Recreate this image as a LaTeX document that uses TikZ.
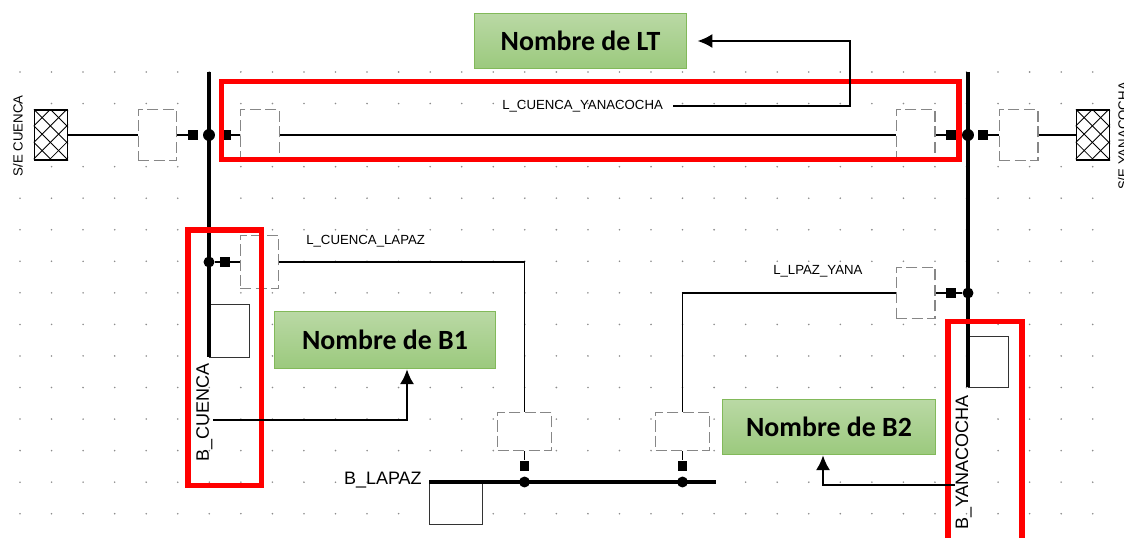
\documentclass[tikz,border=0pt]{standalone}
\usepackage{fontspec}
\setmainfont{Liberation Sans}
\newfontfamily\carlito{Carlito}
\usetikzlibrary{arrows.meta}
\definecolor{vertHaut}{RGB}{186,217,165}
\definecolor{vertBas}{RGB}{155,201,125}
\definecolor{vertBord}{RGB}{130,185,90}
\definecolor{pointille}{RGB}{135,135,135}
\definecolor{grille}{RGB}{140,140,140}

\begin{document}
\begin{tikzpicture}[x=0.025cm,y=-0.025cm]
% Styles
\def\px{0.70866pt}
\tikzstyle{fleche}=[-{Latex[length=10.5pt,width=10pt]},line width=1.4pt]
\tikzstyle{barre}=[line width=2.2pt]
\tikzstyle{fil}=[line width=0.8pt]
\tikzstyle{interrupteur}=[draw=pointille,fill=white,line width=0.8pt,dash pattern=on 8pt off 3pt,minimum width=39*\px,minimum height=51*\px,inner sep=0]
\tikzstyle{interrupteurH}=[interrupteur,minimum width=54*\px,minimum height=39*\px]
\tikzstyle{disjoncteur}=[fill=black,minimum width=10*\px,minimum height=11*\px,inner sep=0]
\tikzstyle{jonction}=[fill=black,circle,minimum size=12*\px,inner sep=0]
\tikzstyle{charge}=[draw=black!80,fill=white,line width=0.8pt,inner sep=0,anchor=north west]
\tikzstyle{reseau}=[draw,fill=white,line width=0.9pt,minimum width=33*\px,minimum height=50*\px,inner sep=0]
\tikzstyle{etiquette}=[font=\fontsize{9.4}{11}\selectfont,inner sep=0]
\tikzstyle{nombarre}=[font=\fontsize{12.8}{15}\selectfont,inner sep=0]
\tikzstyle{cadre}=[draw=red,line width=3.8pt]
\tikzstyle{bulle}=[draw=vertBord,top color=vertHaut,bottom color=vertBas,line width=0.6pt,inner sep=0,font=\carlito\bfseries\fontsize{19.8}{24}\selectfont]
% Hachures d'un reseau externe
\def\hachure#1{\begin{scope}
  \clip (#1.north west) rectangle (#1.south east);
  \foreach \k in {-49.5,-33,-16.5,0,16.5,33} \draw[line width=0.6pt] ([xshift=\k*\px]#1.north west) -- ++(60,60);
  \foreach \k in {0,16.5,33,49.5,66,82.5} \draw[line width=0.6pt] ([xshift=\k*\px]#1.north west) -- ++(-60,60);
  \end{scope}}
\useasboundingbox (0,0) rectangle (1124,538);
% Grille
\foreach \i in {0,...,34} \foreach \j in {0,...,14}
  \fill[grille] (20+31.55*\i,72+31.55*\j) circle[radius=0.9*\px];
% Charges
\node[charge,minimum width=40*\px,minimum height=53*\px] (CC) at (209,304) {};
\node[charge,minimum width=40*\px,minimum height=51*\px] (CY) at (968,336) {};
\node[charge,minimum width=53*\px,minimum height=42*\px] (CL) at (429,482) {};
% Barres
\coordinate (BCh) at (209,72);
\coordinate (BCb) at (209,357);
\coordinate (BYh) at (968,72);
\coordinate (BYb) at (968,387);
\coordinate (BLg) at (429,482);
\coordinate (BLd) at (716,482);
\draw[barre] (BCh) -- (BCb);
\draw[barre] (BYh) -- (BYb);
\draw[barre] (BLg) -- (BLd);
% Reseaux externes
\node[reseau] (RC) at (51,135) {};
\node[reseau] (RY) at (1093,135) {};
\hachure{RC}
\hachure{RY}
\node[etiquette,rotate=90] (SEC) at (18,136) {S/E CUENCA};
\node[etiquette,rotate=90] (SEY) at (1123,136) {S/E YANACOCHA};
% Ligne L_CUENCA_YANACOCHA
\node[interrupteur] (I1) at (157.5,135) {};
\node[disjoncteur] (D1) at (193,135) {};
\node[jonction] (J1) at (209,135) {};
\node[disjoncteur] (D2) at (226,135) {};
\node[interrupteur] (I2) at (260,135) {};
\node[interrupteur] (I3) at (915.5,135) {};
\node[disjoncteur] (D3) at (951,135) {};
\node[jonction] (J2) at (968,135) {};
\node[disjoncteur] (D4) at (983,135) {};
\node[interrupteur] (I4) at (1018.5,135) {};
\draw[fil] (RC) -- (I1);
\draw[fil] (I1) -- (D1);
\draw[fil] (D2) -- (I2);
\draw[fil] (I2) -- (I3);
\draw[fil] (I3) -- (D3);
\draw[fil] (D4) -- (I4);
\draw[fil] (I4) -- (RY);
% Ligne L_CUENCA_LAPAZ
\node[jonction,minimum size=11*\px] (J3) at (209,262) {};
\node[disjoncteur,minimum height=10*\px] (D5) at (225,262) {};
\node[interrupteur,minimum height=53*\px] (I5) at (259.5,262) {};
\node[interrupteurH] (I6) at (524.5,431.5) {};
\node[disjoncteur] (D6) at (524.5,466) {};
\node[jonction,minimum size=11*\px] (J4) at (524.5,482) {};
\draw[fil] (J3) -- (D5);
\draw[fil] (D5) -- (I5);
\draw[fil] (I5.east) -| (I6.north);
\draw[fil] (I6) -- (D6);
% Ligne L_LPAZ_YANA
\node[jonction,minimum size=11*\px] (J5) at (968,293) {};
\node[disjoncteur] (D7) at (951,293) {};
\node[interrupteur,minimum height=52*\px] (I7) at (915.5,293) {};
\node[interrupteurH] (I8) at (682.5,431.5) {};
\node[disjoncteur] (D8) at (682.5,466) {};
\node[jonction,minimum size=11*\px] (J6) at (682.5,482) {};
\draw[fil] (J5) -- (D7);
\draw[fil] (D7) -- (I7);
\draw[fil] (I7.west) -| (I8.north);
\draw[fil] (I8) -- (D8);
% Etiquettes
\node[etiquette,anchor=west] (LCY) at (502,106) {L\_CUENCA\_YANACOCHA};
\node[etiquette,anchor=west] (LCL) at (306,241) {L\_CUENCA\_LAPAZ};
\node[etiquette,anchor=west] (LLY) at (773,271) {L\_LPAZ\_YANA};
\node[nombarre,rotate=90] (BC) at (204.5,412.5) {B\_CUENCA};
\node[nombarre,anchor=east] (BL) at (422,480) {B\_LAPAZ};
\node[nombarre,rotate=90] (BY) at (963.5,462.5) {B\_YANACOCHA};
% Cadres rouges
\draw[cadre] (221.5,81.5) rectangle (959,159.5);
\draw[cadre] (188,230) rectangle (261.5,485.5);
\draw[cadre] (948,321.5) rectangle (1022,545);
% Bulles
\node[bulle,minimum width=213*\px,minimum height=56*\px] (NLT) at (580.5,41) {Nombre de LT};
\node[bulle,minimum width=222*\px,minimum height=58*\px] (NB1) at (385,340) {Nombre de B1};
\node[bulle,minimum width=214*\px,minimum height=56*\px] (NB2) at (829,427) {Nombre de B2};
% Fleches
\coordinate (cLT) at (850,41);
\coordinate (cB1) at (407,420);
\coordinate (cB2) at (823,485);
\draw[fleche,shorten <=7pt,shorten >=7.5pt] (LCY.east) -| (cLT) -- (NLT.east);
\draw[fleche] (BC.south |- cB1) -- (cB1) -- (cB1 |- NB1.south);
\draw[fleche] (BY.north |- cB2) -- (cB2) -- (cB2 |- NB2.south);
\end{tikzpicture}
\end{document}
